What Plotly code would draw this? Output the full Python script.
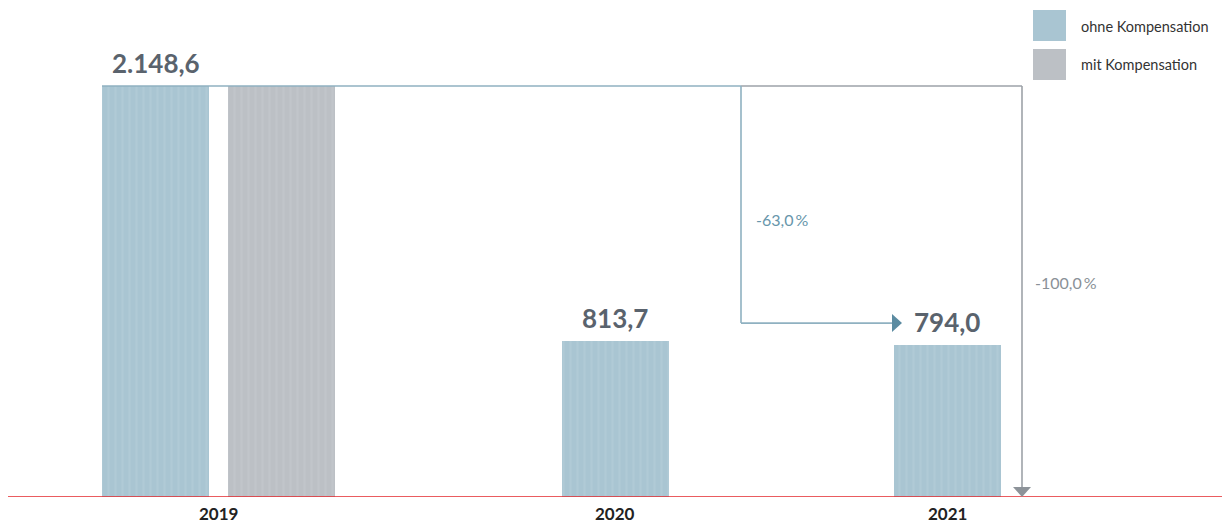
import plotly.graph_objects as go

# ---------------- data ----------------
years = ["2019", "2020", "2021"]
ohne = [2148.6, 813.7, 794.0]          # ohne Kompensation
mit = [2148.6, None, 0.0]              # mit Kompensation
value_labels = ["2.148,6", "813,7", "794,0"]
series_names = ["ohne Kompensation", "mit Kompensation"]
change_labels = ["-63,0\u2009%", "-100,0\u2009%"]

# ---------------- layout constants ----------------
W, H = 1222, 526
PLOT_H = 497                     # plot area height in px (bottom margin = H - PLOT_H)
TOP_PX = 86                      # pixel row of the tallest bar top
YMAX = ohne[0] * PLOT_H / (PLOT_H - TOP_PX)
UPP = YMAX / PLOT_H              # data units per pixel

group_x = [218.5, 615, 947]
BAR_W = 107
PAIR_OFF = 63

BLUE = "#a9c5d2"
GRAY = "#bcc0c5"
BLUE_LINE = "#8fb1c1"
BLUE_HEAD = "#5b8ba1"
GRAY_LINE = "#9da2a8"
GRAY_HEAD = "#8d9399"
LABEL_C = "#5a636d"
FONT = "Lato"


def ydat(px):
    """pixel row (from top of image) -> data value"""
    return (PLOT_H - px) * UPP


def ypap(px):
    return (PLOT_H - px) / PLOT_H


blue_x = [g - PAIR_OFF if (m is not None and m > 0) else g for g, m in zip(group_x, mit)]
gray_x = [g + PAIR_OFF for g, m in zip(group_x, mit) if m is not None and m > 0]
gray_y = [m for m in mit if m is not None and m > 0]

pattern_blue = dict(shape="|", fgcolor="#ffffff", fgopacity=0.08, size=7, solidity=0.3)
pattern_gray = dict(shape="|", fgcolor="#ffffff", fgopacity=0.08, size=7, solidity=0.3)

fig = go.Figure()
fig.add_trace(go.Bar(x=blue_x, y=ohne, width=BAR_W, name=series_names[0],
                     marker=dict(color=BLUE, line=dict(width=0), pattern=pattern_blue),
                     showlegend=False, hoverinfo="skip"))
fig.add_trace(go.Bar(x=gray_x, y=gray_y, width=BAR_W, name=series_names[1],
                     marker=dict(color=GRAY, line=dict(width=0), pattern=pattern_gray),
                     showlegend=False, hoverinfo="skip"))

shapes = []
annotations = []

# baseline
shapes.append(dict(type="line", xref="x", yref="y", x0=8, x1=W, y0=0, y1=0,
                   line=dict(color="#e3262b", width=1.5), layer="above"))

# connectors
X_BLUE = 741
X_GRAY = 1022
top = ohne[0]
arrow_y = ohne[2] + 22 * UPP
head_tip = 902
shapes += [
    dict(type="line", x0=blue_x[0] - BAR_W / 2, x1=X_BLUE, y0=top, y1=top,
         line=dict(color=BLUE_LINE, width=1.6)),
    dict(type="line", x0=X_BLUE, x1=X_GRAY, y0=top, y1=top,
         line=dict(color=GRAY_LINE, width=1.6)),
    dict(type="line", x0=X_BLUE, x1=X_BLUE, y0=top, y1=arrow_y,
         line=dict(color=BLUE_LINE, width=1.6)),
    dict(type="line", x0=X_BLUE, x1=head_tip - 10, y0=arrow_y, y1=arrow_y,
         line=dict(color=BLUE_LINE, width=1.6)),
    dict(type="path",
         path=f"M {head_tip - 10},{arrow_y + 9 * UPP} L {head_tip},{arrow_y} L {head_tip - 10},{arrow_y - 9 * UPP} Z",
         fillcolor=BLUE_HEAD, line=dict(width=0)),
    dict(type="line", x0=X_GRAY, x1=X_GRAY, y0=top, y1=10 * UPP,
         line=dict(color=GRAY_LINE, width=1.6)),
    dict(type="path",
         path=f"M {X_GRAY - 9},{10 * UPP} L {X_GRAY + 9},{10 * UPP} L {X_GRAY},{0} Z",
         fillcolor=GRAY_HEAD, line=dict(width=0), layer="above"),
]
for s in shapes[1:]:
    s.setdefault("xref", "x")
    s.setdefault("yref", "y")

# value labels
for x, v, t in zip(blue_x, ohne, value_labels):
    annotations.append(dict(x=x, y=v, xref="x", yref="y", text=t, showarrow=False,
                            yanchor="middle", yshift=23,
                            font=dict(family=FONT, size=26, color=LABEL_C, weight="bold")))

# year labels
for g, yr in zip(group_x, years):
    annotations.append(dict(x=g, y=0, xref="x", yref="y", text=yr, showarrow=False,
                            yanchor="middle", yshift=-16, borderpad=0,
                            font=dict(family=FONT, size=17, color="#222222", weight="bold")))

# change labels
annotations.append(dict(x=782, y=ydat(219), xref="x", yref="y", text=change_labels[0],
                        showarrow=False, font=dict(family=FONT, size=16, color="#6796ab")))
annotations.append(dict(x=1066, y=ydat(282), xref="x", yref="y", text=change_labels[1],
                        showarrow=False, font=dict(family=FONT, size=16, color="#8a9197")))

# legend
for i, (name, col) in enumerate(zip(series_names, [BLUE, GRAY])):
    y0 = 10 + i * 39
    shapes.append(dict(type="rect", xref="x", yref="paper", x0=1033, x1=1066,
                       y0=ypap(y0 + 31), y1=ypap(y0), fillcolor=col, line=dict(width=0)))
    annotations.append(dict(x=1079, y=ypap(y0 + 16), xref="x", yref="paper", text=name,
                            showarrow=False, xanchor="left", yanchor="middle",
                            font=dict(family=FONT, size=14.5, color="#333333")))

fig.update_layout(
    width=W, height=H,
    margin=dict(l=0, r=0, t=0, b=H - PLOT_H, pad=0),
    paper_bgcolor="white", plot_bgcolor="white",
    xaxis=dict(range=[0, W], visible=False, fixedrange=True),
    yaxis=dict(range=[0, YMAX], visible=False, fixedrange=True),
    shapes=shapes, annotations=annotations,
    bargap=0, showlegend=False,
)

fig.write_html("out.html")
